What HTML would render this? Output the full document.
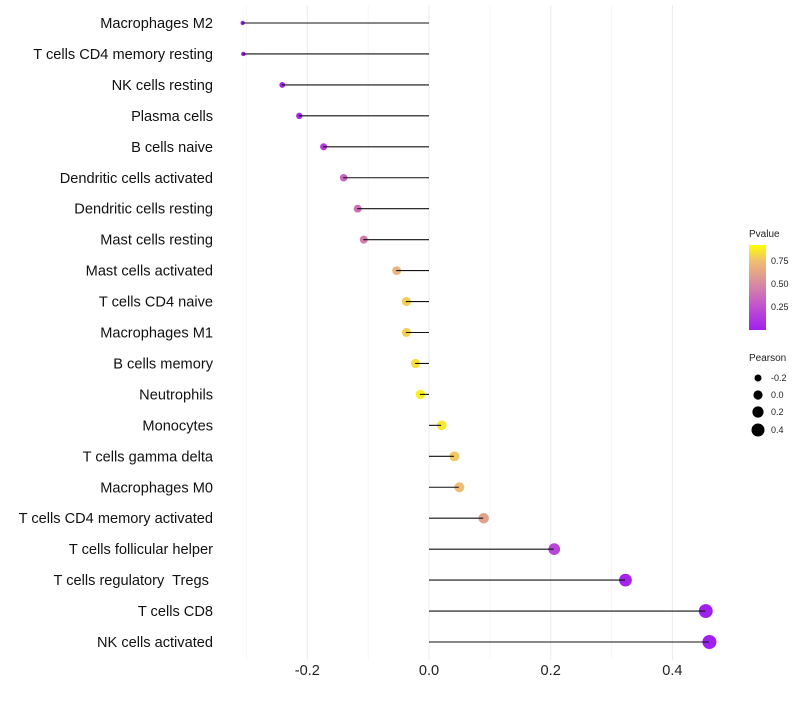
<!DOCTYPE html>
<html><head><meta charset="utf-8"><style>
body{margin:0;background:#fff;font-family:"Liberation Sans",sans-serif}
</style></head><body>
<svg id="chart" width="800" height="700" xmlns="http://www.w3.org/2000/svg">
<defs><linearGradient id="pg" x1="0" y1="1" x2="0" y2="0">
<stop offset="0" stop-color="#a020f0"/><stop offset="0.27" stop-color="#c050d0"/><stop offset="0.54" stop-color="#d88aa0"/><stop offset="0.82" stop-color="#f0c070"/><stop offset="1" stop-color="#ffff00"/></linearGradient></defs>
<g id="grid"></g><g id="dots"></g><g id="marks"></g><g id="labels"></g>
<g font-size="9" fill="#222">
<text x="749" y="237" font-size="10">Pvalue</text>
<rect x="749" y="245" width="17" height="85" fill="url(#pg)"/>
<text x="771" y="264">0.75</text><text x="771" y="287">0.50</text><text x="771" y="310">0.25</text>
</g>
<g font-size="9" fill="#222">
<text x="749" y="361" font-size="10">Pearson</text>
<circle cx="758" cy="378" r="3.5" fill="#000"/><text x="771" y="381">-0.2</text>
<circle cx="758" cy="395" r="4.6" fill="#000"/><text x="771" y="398">0.0</text>
<circle cx="758" cy="412" r="5.6" fill="#000"/><text x="771" y="415">0.2</text>
<circle cx="758" cy="430" r="6.5" fill="#000"/><text x="771" y="433">0.4</text>
</g>
</svg>
<script>
const cells=["Macrophages M2","T cells CD4 memory resting","NK cells resting","Plasma cells","B cells naive","Dendritic cells activated","Dendritic cells resting","Mast cells resting","Mast cells activated","T cells CD4 naive","Macrophages M1","B cells memory","Neutrophils","Monocytes","T cells gamma delta","Macrophages M0","T cells CD4 memory activated","T cells follicular helper","T cells regulatory  Tregs ","T cells CD8","NK cells activated"];
const pearson=[-0.307,-0.306,-0.242,-0.214,-0.174,-0.141,-0.118,-0.108,-0.054,-0.038,-0.038,-0.023,-0.015,0.020,0.041,0.049,0.089,0.205,0.322,0.454,0.460];
const pvalue=[0.001,0.001,0.03,0.06,0.16,0.36,0.42,0.47,0.76,0.86,0.86,0.9,0.95,0.93,0.84,0.8,0.66,0.2,0.02,0.001,0.001];
const ticks=[-0.2,0.0,0.2,0.4];
const minor=[-0.3,-0.1,0.1,0.3];
const NS="http://www.w3.org/2000/svg";
const x=v=>429+v*608.5;
const y=i=>23+i*30.95;
function col(p){const st=[[0,[160,32,240]],[0.27,[192,80,208]],[0.54,[216,138,160]],[0.82,[240,192,112]],[1,[255,255,0]]];
for(let k=1;k<st.length;k++){if(p<=st[k][0]){const a=st[k-1],b=st[k],t=(p-a[0])/(b[0]-a[0]);return 'rgb('+a[1].map((c,j)=>Math.round(c+(b[1][j]-c)*t)).join(',')+')';}}return 'rgb(255,255,0)';}
function mk(tag,at,par){const e=document.createElementNS(NS,tag);for(const k in at)e.setAttribute(k,at[k]);document.getElementById(par).appendChild(e);return e;}
minor.forEach(v=>{const l=mk('line',{x1:x(v),x2:x(v),y1:5,y2:660,stroke:'#f2f2f2','stroke-width':0.6},'grid');

});
ticks.forEach(v=>{const l=mk('line',{x1:x(v),x2:x(v),y1:5,y2:660,stroke:'#ebebeb','stroke-width':1},'grid');


const t=mk('text',{x:x(v),y:675,'text-anchor':'middle','font-size':14.6,fill:'#222'},'labels');t.textContent=v.toFixed(1);

});
cells.forEach((c,i)=>{const yy=y(i);
const r=Math.sqrt(Math.max(2.5,22.5+57.6*pearson[i]));
const d=mk('circle',{cx:x(pearson[i])+0.5,cy:yy,r:r,fill:col(pvalue[i])},'dots');


const l=mk('line',{x1:x(0),x2:x(pearson[i]),y1:yy,y2:yy,stroke:'#111','stroke-width':1.1},'marks');


const t=mk('text',{x:213,y:yy+5,'text-anchor':'end','font-size':14.6,fill:'#111','xml:space':'preserve'},'labels');t.textContent=c;
t.style.whiteSpace='pre';

});
</script>
</body></html>
